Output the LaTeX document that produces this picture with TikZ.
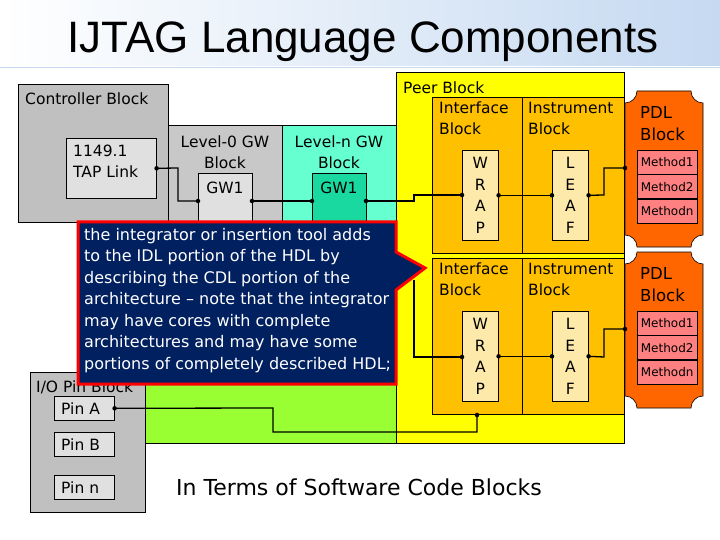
\documentclass[tikz,border=0pt]{standalone}
\usepackage{fontspec}
\setmainfont{DejaVu Sans}
\newfontfamily\titlefont{Liberation Sans}
\begin{document}
\begin{tikzpicture}[x=1pt,y=-1pt,
 blk/.style={draw=black,line width=0.6pt},
 lbl/.style={inner sep=0pt,align=left,font=\fontsize{15.5}{21}\selectfont},
 clbl/.style={inner sep=0pt,align=center,font=\fontsize{15.5}{21}\selectfont},
 wire/.style={line width=1.3pt},
 dot/.style={circle,fill=black,inner sep=1.6pt},
 meth/.style={draw=black,line width=0.4pt,fill=methc,minimum width=60pt,minimum height=24pt,inner sep=0pt,font=\fontsize{12}{13}\selectfont}]
\definecolor{gray1}{HTML}{C0C0C0}
\definecolor{gray2}{HTML}{C8C8C8}
\definecolor{gray3}{HTML}{E0E0E0}
\definecolor{cyanb}{HTML}{66FFD0}
\definecolor{cyand}{HTML}{1AD9A0}
\definecolor{greenb}{HTML}{99FF33}
\definecolor{yell}{HTML}{FFFF00}
\definecolor{orb}{HTML}{FFC000}
\definecolor{wrapc}{HTML}{FDE9A9}
\definecolor{pdlc}{HTML}{FF6600}
\definecolor{methc}{HTML}{FF8080}
\definecolor{navy}{HTML}{002060}
\definecolor{band}{HTML}{C5D9F1}
\useasboundingbox (0,0) rectangle (720,540);
\fill[white] (0,0) rectangle (720,540);
\shade[left color=white,right color=band] (0,0) rectangle (720,66);
\draw[band,line width=1pt] (0,68) -- (720,68);
\node[font=\titlefont\fontsize{44}{48}\selectfont] (title) at (363,42) {IJTAG Language Components};
% blocks
\node[blk,fill=greenb,minimum width=251pt,minimum height=193pt,anchor=north west,inner sep=0pt] (green) at (145,250) {};
\node[blk,fill=gray2,minimum width=114pt,minimum height=135pt,anchor=north west,inner sep=0pt] (lev0) at (168,125) {};
\node[blk,fill=cyanb,minimum width=114pt,minimum height=135pt,anchor=north west,inner sep=0pt] (levn) at (282,125) {};
\node[blk,fill=gray1,minimum width=150pt,minimum height=138pt,anchor=north west,inner sep=0pt] (ctrl) at (18,84) {};
\node[lbl,anchor=west] (ctrlt) at (25,99) {Controller Block};
\node[blk,fill=gray3,minimum width=90pt,minimum height=60pt,anchor=north west,inner sep=0pt] (tap) at (66,138) {};
\node[lbl,anchor=north west] (tapt) at (73,145) {1149.1\\TAP Link};
\node[clbl] (lev0t) at (225,152) {Level-0 GW\\Block};
\node[clbl] (levnt) at (339,152) {Level-n GW\\Block};
\node[blk,fill=gray3,minimum width=54pt,minimum height=55pt,anchor=north west,inner sep=0pt] (gw0) at (198,173) {};
\node[clbl] (gw0t) at (225,188) {GW1};
\node[blk,fill=cyand,minimum width=54pt,minimum height=55pt,anchor=north west,inner sep=0pt] (gwn) at (312,173) {};
\node[clbl] (gwnt) at (339,188) {GW1};
% io pins
\node[blk,fill=gray1,minimum width=115pt,minimum height=140pt,anchor=north west,inner sep=0pt] (io) at (30,372) {};
\node[lbl,anchor=west] (iot) at (36,387) {I/O Pin Block};
\node[blk,fill=gray3,minimum width=60pt,minimum height=24pt,anchor=north west,inner sep=0pt] (pa) at (54,396) {};
\node[lbl,anchor=west] (pat) at (61,409) {Pin A};
\node[blk,fill=gray3,minimum width=60pt,minimum height=24pt,anchor=north west,inner sep=0pt] (pb) at (54,432) {};
\node[lbl,anchor=west] (pbt) at (61,445) {Pin B};
\node[blk,fill=gray3,minimum width=60pt,minimum height=24pt,anchor=north west,inner sep=0pt] (pn) at (54,475) {};
\node[lbl,anchor=west] (pnt) at (61,488) {Pin n};
% peer block
\node[blk,fill=yell,minimum width=228pt,minimum height=371pt,anchor=north west,inner sep=0pt] (peer) at (396,72) {};
\node[lbl,anchor=west] (peert) at (403,88) {Peer Block};
\foreach \i/\y in {1/97,2/258}{
 \node[blk,fill=orb,minimum width=90pt,minimum height=156pt,anchor=north west,inner sep=0pt] (if\i) at (432,\y) {};
 \node[blk,fill=orb,minimum width=102pt,minimum height=156pt,anchor=north west,inner sep=0pt] (in\i) at (522,\y) {};
 \node[lbl,anchor=north west] (ift\i) at (439,\y+5) {Interface\\Block};
 \node[lbl,anchor=north west] (int\i) at (528,\y+5) {Instrument\\Block};
 \node[blk,fill=wrapc,minimum width=36pt,minimum height=90pt,anchor=north west,inner sep=0pt] (wrap\i) at (462,\y+53) {};
 \node[clbl,font=\fontsize{15.5}{21.5}\selectfont] (wrapt\i) at (wrap\i) {W\\R\\A\\P};
 \node[blk,fill=wrapc,minimum width=36pt,minimum height=90pt,anchor=north west,inner sep=0pt] (leaf\i) at (552,\y+53) {};
 \node[clbl,font=\fontsize{15.5}{21.5}\selectfont] (leaft\i) at (leaf\i) {L\\E\\A\\F};
 % PDL
 \pgfmathsetmacro\ya{\y-6}\pgfmathsetmacro\yb{\y+150}
 \draw[blk,fill=pdlc] (625,\ya+12) arc[start angle=90,end angle=0,radius=12] -- (691,\ya)
   arc[start angle=180,end angle=90,radius=12] -- (703,\yb-12)
   arc[start angle=270,end angle=180,radius=12] -- (637,\yb)
   arc[start angle=0,end angle=-90,radius=12] -- cycle;
 \node[lbl,anchor=north west,font=\fontsize{16.5}{22}\selectfont] (pdlt\i) at (640,\y+9) {PDL\\Block};
 \node[meth,anchor=north west] (m1\i) at (637,\y+53) {Method1};
 \node[meth,anchor=north] (m2\i) at (m1\i.south) {Method2};
 \node[meth,anchor=north] (m3\i) at (m2\i.south) {Methodn};
 \coordinate (pdlin\i) at (625,\y+71);
}
% wires
\draw[wire] (tap.east) -- (178,168) |- (198,201) node[dot]{};
\node[dot] at (tap.east){};
\draw[wire] (252,201) node[dot]{} -- (312,201) node[dot]{};
\draw[wire] (366,201) node[dot]{} -- (414,201) -- (414,195) -- (462,195) node[dot]{};
\draw[wire] (wrap1.east) node[dot]{} -- (leaf1.west) node[dot]{};
\draw[wire] (leaf1.east) node[dot]{} -- (604,195) |- (pdlin1) node[dot]{};
\draw[wire] (414,280) |- (462,357) node[dot]{};
\draw[wire] (wrap2.east) node[dot]{} -- (leaf2.west) node[dot]{};
\draw[wire] (leaf2.east) node[dot]{} -- (604,357) |- (pdlin2) node[dot]{};
\draw[wire] (pa.east) node[dot]{} -- (273,408) -- (273,432) -- (477,432) -- (477,415) node[dot]{};
% callout
\draw[red,line width=3pt,fill=navy,line join=miter] (78,222) -- (396,222) -- (396,252) -- (425,268) -- (396,290) -- (396,384) -- (78,384) -- cycle;
\node[lbl,anchor=north west,text=white,font=\fontsize{16}{21.5}\selectfont] (callt) at (84,228) {the integrator or insertion tool adds\\to the IDL portion of the HDL by\\describing the CDL portion of the\\architecture -- note that the integrator\\may have cores with complete\\architectures and may have some\\portions of completely described HDL;};
\node[font=\fontsize{22}{24}\selectfont] (cap) at (359,487) {In Terms of Software Code Blocks};
\end{tikzpicture}
\end{document}
